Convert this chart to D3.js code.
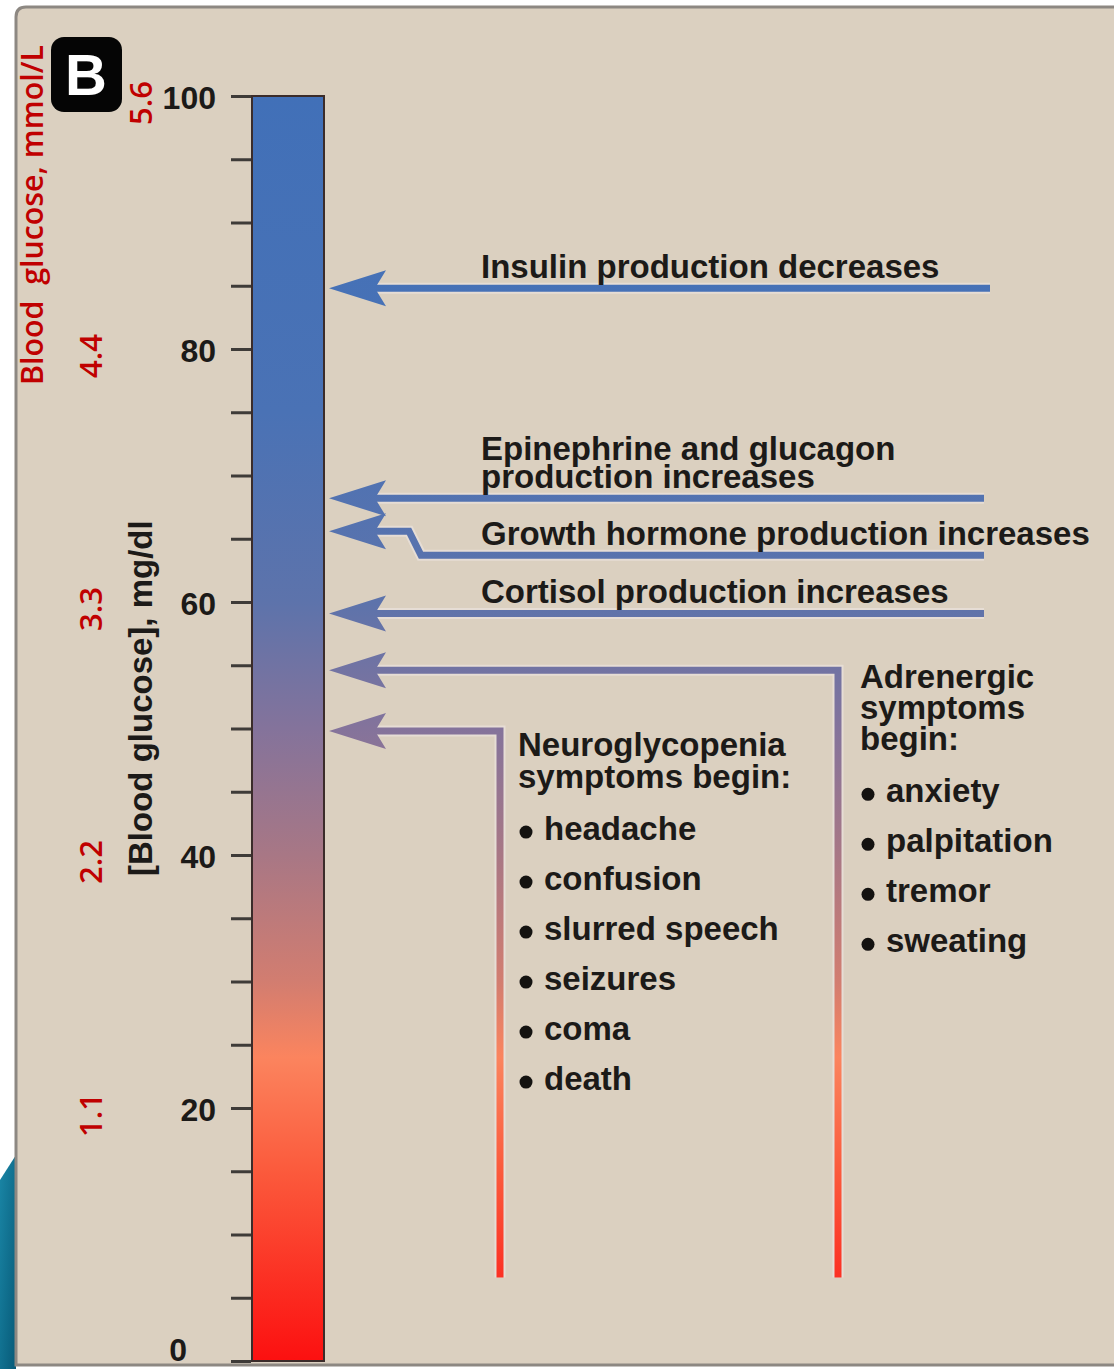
<!DOCTYPE html>
<html>
<head>
<meta charset="utf-8">
<script src="https://cdn.jsdelivr.net/npm/d3@7"></script>
<style>
  body { margin: 0; background: #ffffff; }
  svg { display: block; }
  .lbl { font-family: "Liberation Sans", Arial, Helvetica, sans-serif; font-weight: bold; font-size: 34px; fill: #1c1a18; }
  .tick text { font-family: "Liberation Sans", Arial, sans-serif; font-weight: bold; font-size: 32px; fill: #1c1a18; }
  .red { font-family: "Open Sans", "Liberation Sans", sans-serif; fill: #c00000; }
</style>
</head>
<body>
<div id="chart"></div>
<script>
// blood glucose scale (mg/dl) and its mmol/L equivalents
const mgTicks = [0, 5, 10, 15, 20, 25, 30, 35, 40, 45, 50, 55, 60, 65, 70, 75, 80, 85, 90, 95, 100];
const mgLabels = [0, 20, 40, 60, 80, 100];
const mmolLabels = ['1.1', '2.2', '3.3', '4.4', '5.6'];
const mmolAtMg = [20, 40, 60, 80, 100];

// colour of the glucose bar, by mg/dl level
const colorLevels = [100, 75, 60, 50, 40, 30, 24, 15, 0];
const colorValues = ['#4170b8', '#4a72b5', '#5d73ab', '#84739b', '#a87785', '#d27d70', '#fb845e', '#fb5a3c', '#fc1010'];

// counter-regulatory responses
const hormoneLabels = [
  ['Insulin production decreases'],
  ['Epinephrine and glucagon', 'production increases'],
  ['Growth hormone production increases'],
  ['Cortisol production increases']
];
const hormoneLevels = [84.8, 68.2, 65.6, 59.1];
const hormoneLineLevels = [84.8, 68.2, 63.7, 59.1];

// symptoms
const symptomHeads = [
  ['Adrenergic', 'symptoms', 'begin:'],
  ['Neuroglycopenia', 'symptoms begin:']
];
const symptomItems = [
  ['anxiety', 'palpitation', 'tremor', 'sweating'],
  ['headache', 'confusion', 'slurred speech', 'seizures', 'coma', 'death']
];
const symptomLevels = [54.6, 49.8];
const symptomLineEnd = 6.6;

const width = 1114, height = 1369;
const barX = 252, barW = 72;

const svg = d3.select('#chart').append('svg')
  .attr('width', width)
  .attr('height', height);

const y = d3.scaleLinear().domain([0, 100]).range([1361, 96]);

const defs = svg.append('defs');
const grad = defs.append('linearGradient')
  .attr('id', 'glu')
  .attr('gradientUnits', 'userSpaceOnUse')
  .attr('x1', 0).attr('x2', 0)
  .attr('y1', y(100)).attr('y2', y(0));
grad.selectAll('stop')
  .data(colorLevels)
  .join('stop')
  .attr('offset', d => (100 - d) / 100)
  .attr('stop-color', (d, i) => colorValues[i]);

const teal = defs.append('linearGradient').attr('id', 'teal')
  .attr('x1', 0).attr('x2', 1).attr('y1', 0).attr('y2', 1);
teal.append('stop').attr('offset', 0).attr('stop-color', '#1a86a6');
teal.append('stop').attr('offset', 1).attr('stop-color', '#075a78');

// frame
svg.append('path')
  .attr('d', 'M0,1180 L16,1155 L16,1369 L0,1369 Z')
  .attr('fill', 'url(#teal)');
svg.append('path')
  .attr('d', `M${width + 5},7 H26 Q16,7 16,17 V1365 H${width + 5}`)
  .attr('fill', '#dbd0c0')
  .attr('stroke', '#8d8882')
  .attr('stroke-width', 3);

// B badge
svg.append('rect')
  .attr('x', 51).attr('y', 37)
  .attr('width', 71).attr('height', 75)
  .attr('rx', 13)
  .attr('fill', '#050505');
svg.append('text')
  .attr('x', 86).attr('y', 95)
  .attr('text-anchor', 'middle')
  .attr('font-family', 'Liberation Sans, Arial, sans-serif')
  .attr('font-weight', 'bold')
  .attr('font-size', 58)
  .attr('fill', '#ffffff')
  .text('B');

// glucose bar
svg.append('rect')
  .attr('x', barX)
  .attr('y', y(100))
  .attr('width', barW)
  .attr('height', y(0) - y(100))
  .attr('fill', 'url(#glu)')
  .attr('stroke', '#3b2c2a')
  .attr('stroke-width', 2);

// mg/dl axis
const axis = svg.append('g')
  .attr('transform', `translate(${barX - 1},0)`)
  .call(d3.axisLeft(y)
    .tickValues(mgTicks)
    .tickSize(20)
    .tickPadding(15)
    .tickFormat(d => mgLabels.includes(d) ? d : ''));
axis.select('.domain').remove();
axis.selectAll('.tick line').attr('stroke', '#3e3b38').attr('stroke-width', 3);
axis.selectAll('.tick text')
  .attr('dy', d => d === 0 ? '-0.02em' : '0.4em')
  .attr('dx', d => d === 0 ? -29 : 0);

svg.append('text')
  .attr('class', 'lbl')
  .attr('transform', `translate(152,${y(52.4)}) rotate(-90)`)
  .attr('text-anchor', 'middle')
  .style('font-size', '33px')
  .text('[Blood glucose], mg/dl');

// mmol/L labels
svg.selectAll('text.mmol')
  .data(mmolLabels)
  .join('text')
  .attr('class', 'red mmol')
  .attr('transform', (d, i) => `translate(${mmolAtMg[i] === 100 ? 152 : 102},${y(mmolAtMg[i]) + 7}) rotate(-90)`)
  .attr('text-anchor', 'middle')
  .attr('font-size', 31)
  .attr('font-weight', 600)
  .text(d => d);

svg.append('text')
  .attr('class', 'red')
  .attr('transform', 'translate(43,385) rotate(-90)')
  .attr('font-size', 30)
  .attr('font-weight', 600)
  .attr('textLength', 340)
  .attr('lengthAdjust', 'spacingAndGlyphs')
  .attr('xml:space', 'preserve')
  .style('white-space', 'pre')
  .text('Blood  glucose, mmol/L');

// arrows
const tipX = barX + barW + 5;
const arrowHead = v => {
  const yy = y(v);
  return `M${tipX},${yy} L${tipX + 57},${yy - 18} L${tipX + 46},${yy} L${tipX + 57},${yy + 18} Z`;
};

const hormoneEnds = [990, 984, 984, 984];
const hormonePath = (d, i) => {
  const y0 = y(hormoneLevels[i]), y1 = y(hormoneLineLevels[i]);
  if (y0 === y1) return `M${tipX + 20},${y0} H${hormoneEnds[i]}`;
  return `M${tipX + 20},${y0} H${tipX + 80} L${tipX + 92},${y1} H${hormoneEnds[i]}`;
};

const symptomX = [838, 500];
const symptomPath = (d, i) =>
  `M${tipX + 20},${y(symptomLevels[i])} H${symptomX[i]} V${y(symptomLineEnd)}`;

const lines = svg.append('g').attr('fill', 'none').attr('stroke-linejoin', 'miter');
[[hormoneLevels, hormonePath], [symptomLevels, symptomPath]].forEach(([levels, fn]) => {
  lines.selectAll(null).data(levels).join('path')
    .attr('d', fn).attr('stroke', '#efe7e6').attr('stroke-opacity', 0.55).attr('stroke-width', 11);
  lines.selectAll(null).data(levels).join('path')
    .attr('d', fn).attr('stroke', 'url(#glu)').attr('stroke-width', 7);
});

svg.append('g')
  .selectAll('path')
  .data(hormoneLevels.concat(symptomLevels))
  .join('path')
  .attr('d', arrowHead)
  .attr('fill', 'url(#glu)');

// hormone labels
hormoneLabels.forEach((rows, i) => {
  const base = y(hormoneLineLevels[i]) - 10;
  svg.append('g').selectAll('text')
    .data(rows)
    .join('text')
    .attr('class', 'lbl body')
    .attr('x', 481)
    .attr('y', (d, j) => base - (rows.length - 1 - j) * 28)
    .text(d => d);
});

// symptom blocks
const headX = [860, 518];
const headTop = [y(symptomLevels[0]) + 18, y(symptomLevels[1]) + 25];
const headGap = [31, 32];
symptomHeads.forEach((rows, i) => {
  const g = svg.append('g');
  g.selectAll('text.h')
    .data(rows)
    .join('text')
    .attr('class', 'lbl body h')
    .attr('x', headX[i])
    .attr('y', (d, j) => headTop[i] + j * headGap[i])
    .text(d => d);
  const listTop = headTop[i] + (rows.length - 1) * headGap[i] + 52;
  g.selectAll('circle')
    .data(symptomItems[i])
    .join('circle')
    .attr('cx', headX[i] + 8)
    .attr('cy', (d, j) => listTop + j * 50 - 8)
    .attr('r', 6.5)
    .attr('fill', '#141210');
  g.selectAll('text.it')
    .data(symptomItems[i])
    .join('text')
    .attr('class', 'lbl body it')
    .attr('x', headX[i] + 26)
    .attr('y', (d, j) => listTop + j * 50)
    .text(d => d);
});

// the original lettering is a little taller than it is wide: squeeze to 33px widths
svg.selectAll('text.body').each(function () {
  const w = this.getComputedTextLength();
  d3.select(this)
    .attr('textLength', w * 33 / 34)
    .attr('lengthAdjust', 'spacingAndGlyphs');
});
</script>
</body>
</html>
